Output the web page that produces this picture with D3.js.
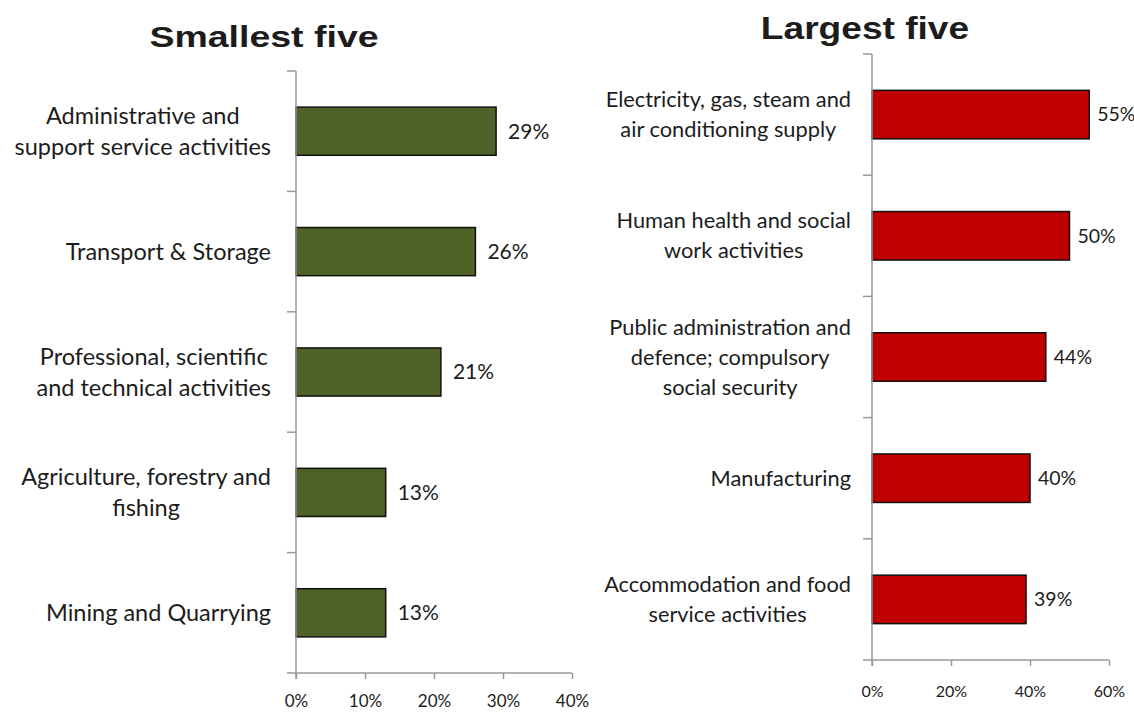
<!DOCTYPE html>
<html>
<head>
<meta charset="utf-8">
<script src="https://cdn.jsdelivr.net/npm/d3@7"></script>
<style>
  html, body { margin: 0; padding: 0; background: #fff; }
  svg { display: block; }
  text { fill: #1c1c1c; }
</style>
</head>
<body>
<svg id="chart" width="1134" height="713"></svg>
<script>
// Share of employees by industry: the five smallest and five largest values
const smallCategories = [
  ["Administrative and", "support service activities"],
  ["Transport & Storage"],
  ["Professional, scientific", "and technical activities"],
  ["Agriculture, forestry and", "fishing"],
  ["Mining and Quarrying"]
];
const smallValues = [29, 26, 21, 13, 13];
const smallTicks = [0, 10, 20, 30, 40];

const largeCategories = [
  ["Electricity, gas, steam and", "air conditioning supply"],
  ["Human health and social", "work activities"],
  ["Public administration and", "defence; compulsory", "social security"],
  ["Manufacturing"],
  ["Accommodation and food", "service activities"]
];
const largeValues = [55, 50, 44, 40, 39];
const largeTicks = [0, 20, 40, 60];

const titles = ["Smallest five", "Largest five"];

const svg = d3.select("#chart");
const labelFont = "Lato, 'Open Sans', sans-serif";

function panel(opts) {
  const g = svg.append("g");
  const x = d3.scaleLinear().domain(opts.domain).range([opts.x0, opts.x1]);
  const y = d3.scaleBand()
    .domain(d3.range(opts.values.length))
    .range([opts.y0, opts.y1])
    .paddingInner(0.6)
    .paddingOuter(0.3);
  const step = y.step();

  // bars
  g.selectAll("rect.bar")
    .data(opts.values)
    .join("rect")
    .attr("class", "bar")
    .attr("x", x(0))
    .attr("y", (d, i) => y(i))
    .attr("width", d => x(d) - x(0))
    .attr("height", y.bandwidth())
    .attr("fill", opts.color)
    .attr("stroke", "#111")
    .attr("stroke-width", 1.5);

  // value axis along the bottom
  const xAxis = d3.axisBottom(x)
    .tickValues(opts.ticks)
    .tickFormat(d => d + "%")
    .tickSize(6)
    .tickPadding(opts.tickPad)
    .tickSizeOuter(0);
  const ax = g.append("g")
    .attr("transform", `translate(0,${opts.y1})`)
    .call(xAxis);
  ax.select(".domain").remove();
  ax.selectAll(".tick line").attr("stroke", "#999").attr("stroke-width", 1.5);
  ax.selectAll(".tick text")
    .style("font-family", labelFont)
    .style("font-size", opts.tickFont + "px")
    .attr("fill", "#1c1c1c");

  // axis lines
  g.append("line")
    .attr("x1", x(0) - 9).attr("x2", x(opts.domain[1]))
    .attr("y1", opts.y1).attr("y2", opts.y1)
    .attr("stroke", "#999").attr("stroke-width", 1.5);
  g.append("line")
    .attr("x1", x(0)).attr("x2", x(0))
    .attr("y1", opts.y0).attr("y2", opts.y1 + 6)
    .attr("stroke", "#999").attr("stroke-width", 1.5);

  // category dividers
  g.selectAll("line.ctick")
    .data(d3.range(opts.values.length))
    .join("line")
    .attr("class", "ctick")
    .attr("x1", x(0) - 9).attr("x2", x(0))
    .attr("y1", i => opts.y0 + i * step)
    .attr("y2", i => opts.y0 + i * step)
    .attr("stroke", "#999").attr("stroke-width", 1.5);

  // value labels
  g.selectAll("text.val")
    .data(opts.values)
    .join("text")
    .attr("class", "val")
    .attr("x", d => x(d) + opts.valGap)
    .attr("y", (d, i) => y(i) + y.bandwidth() / 2)
    .attr("dy", "0.35em")
    .style("font-family", labelFont)
    .style("font-size", opts.valFont + "px")
    .text(d => d + "%");

  // category labels, multi-line blocks right-aligned to the axis, lines centred
  const lh = opts.lineHeight;
  opts.categories.forEach((lines, i) => {
    const cy = y(i) + y.bandwidth() / 2;
    const t = g.append("text")
      .attr("text-anchor", "middle")
      .style("font-family", labelFont)
      .style("font-size", opts.catFont + "px");
    const spans = lines.map((ln, k) =>
      t.append("tspan")
        .attr("y", cy + (k - (lines.length - 1) / 2) * lh)
        .attr("dy", "0.35em")
        .text(ln));
    const w = d3.max(spans, s => s.node().getComputedTextLength());
    spans.forEach(s => s.attr("x", opts.labelRight - w / 2));
  });

  // title
  svg.append("text")
    .attr("text-anchor", "middle")
    .attr("transform", `translate(${opts.titleX},${opts.titleY}) scale(${opts.titleScale},1)`)
    .style("font-family", "'Liberation Sans', Arial, sans-serif")
    .style("font-weight", "bold")
    .style("font-size", opts.titleFont + "px")
    .attr("fill", "#000")
    .text(opts.title);
}

panel({
  title: titles[0], titleX: 264, titleY: 47, titleFont: 30, titleScale: 1.25,
  values: smallValues, categories: smallCategories, ticks: smallTicks,
  domain: [0, 40], x0: 296, x1: 572, y0: 71, y1: 673,
  color: "#4f6228", valGap: 12, valFont: 21, tickFont: 17, tickPad: 16,
  catFont: 23.5, lineHeight: 31, labelRight: 271
});

panel({
  title: titles[1], titleX: 865, titleY: 39, titleFont: 32, titleScale: 1.16,
  values: largeValues, categories: largeCategories, ticks: largeTicks,
  domain: [0, 60], x0: 872, x1: 1109, y0: 54, y1: 660,
  color: "#c00000", valGap: 8, valFont: 19.5, tickFont: 16, tickPad: 20,
  catFont: 21.8, lineHeight: 30, labelRight: 851
});
</script>
</body>
</html>
